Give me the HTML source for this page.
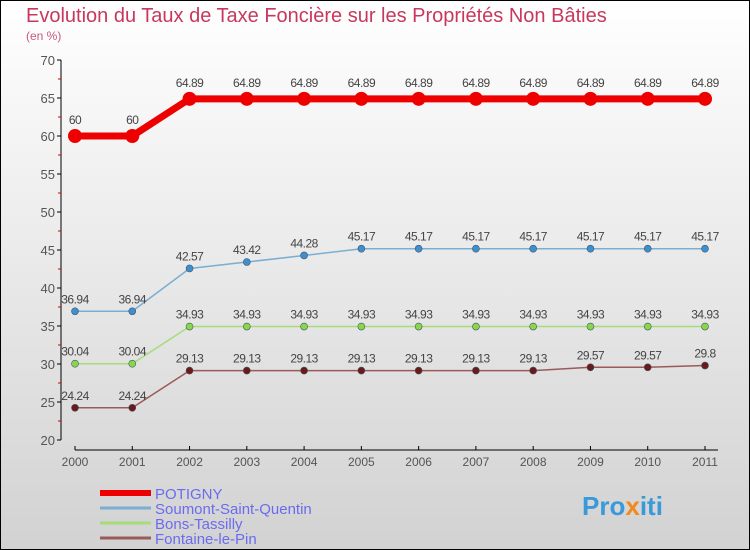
<!DOCTYPE html>
<html><head><meta charset="utf-8"><style>
body{margin:0}
#wrap{width:750px;height:550px;position:relative;box-sizing:border-box;border:1px solid #000;background:linear-gradient(#fff,#d2d2d2);font-family:"Liberation Sans",sans-serif;overflow:hidden}
</style></head><body>
<div id="wrap">
<svg id="c" width="750" height="550" style="position:absolute;left:-1px;top:-1px">
<text x="26" y="22" font-size="20" fill="#c8385e">Evolution du Taux de Taxe Foncière sur les Propriétés Non Bâties</text>
<text x="26" y="40" font-size="12" fill="#c8587e">(en %)</text>
<g id="axes"></g><g id="series"></g><g id="legend"></g>
<text x="582" y="515" font-size="26" font-weight="bold" fill="#3a9ad9">Pro<tspan fill="#f08a1c">x</tspan>iti</text>
</svg></div>
<script>
const years=[2000,2001,2002,2003,2004,2005,2006,2007,2008,2009,2010,2011];
const yTicks=[20,25,30,35,40,45,50,55,60,65,70];
const potigny=[60,60,64.89,64.89,64.89,64.89,64.89,64.89,64.89,64.89,64.89,64.89];
const soumont=[36.94,36.94,42.57,43.42,44.28,45.17,45.17,45.17,45.17,45.17,45.17,45.17];
const bons=[30.04,30.04,34.93,34.93,34.93,34.93,34.93,34.93,34.93,34.93,34.93,34.93];
const fontaine=[24.24,24.24,29.13,29.13,29.13,29.13,29.13,29.13,29.13,29.57,29.57,29.8];
const names=["POTIGNY","Soumont-Saint-Quentin","Bons-Tassilly","Fontaine-le-Pin"];
const NS="http://www.w3.org/2000/svg";
const xS=i=>75+i*(630/(years.length-1));
const yS=v=>440-(v-20)*7.6;
function mk(p,t,a){const e=document.createElementNS(NS,t);for(const k in a)e.setAttribute(k,a[k]);p.appendChild(e);return e;}
const ax=document.getElementById('axes');
let l=mk(ax,'line',{x1:61,y1:60,x2:61,y2:440,stroke:'#000'});

l=mk(ax,'line',{x1:75,y1:450,x2:718,y2:450,stroke:'#000'});

yTicks.forEach((v,i)=>{
 mk(ax,'line',{x1:57,y1:yS(v),x2:61,y2:yS(v),stroke:'#000'});
 if(i<yTicks.length-1)mk(ax,'line',{x1:58,y1:yS(v+2.5),x2:61,y2:yS(v+2.5),stroke:'#d00'});
 const t=mk(ax,'text',{x:55,y:yS(v)+5,'font-size':13,fill:'#555','text-anchor':'end'});t.textContent=v;
 
});
years.forEach((y,i)=>{
 mk(ax,'line',{x1:xS(i),y1:446,x2:xS(i),y2:450,stroke:'#000'});
 const t=mk(ax,'text',{x:xS(i),y:466,'font-size':12,fill:'#555','text-anchor':'middle'});t.textContent=y;
 
});
const sg=document.getElementById('series');
const cfg=[[potigny,'#e00','#e00',7,7,'potigny'],[soumont,'#7aaed2','#3d8fcf',1.5,3.5,'soumont'],[bons,'#a6dc7a','#88d64a',1.5,3.5,'bons'],[fontaine,'#9a5a5a','#6b1a1a',1.5,3.5,'fontaine']];
cfg.forEach(([d,lc,pc,w,r,n])=>{
 const g=mk(sg,'g',{});
 
 const pl=mk(g,'polyline',{points:d.map((v,i)=>xS(i)+','+yS(v)).join(' '),fill:'none',stroke:lc,'stroke-width':w});
 
 d.forEach((v,i)=>{
  const c=mk(g,'circle',{cx:xS(i),cy:yS(v),r:r,fill:pc,stroke:w>5?'none':'#456','stroke-width':0.6});
  
  const t=mk(g,'text',{x:xS(i),y:yS(v)-(w>5?12:8),'font-size':12,fill:'#444','text-anchor':'middle','letter-spacing':'-0.5'});
  t.textContent=v;
  
 });
});
const lg=document.getElementById('legend');
cfg.forEach(([d,lc,pc,w,r,n],i)=>{
 const y=493+i*15;
 const s=mk(lg,'rect',{x:100,y:y-(i==0?3:1.5),width:51,height:i==0?6:3,fill:lc});
 
 const t=mk(lg,'text',{x:155,y:y+6,'font-size':15,fill:'#6b6bef'});t.textContent=names[i];
 
});
</script>
</body></html>
